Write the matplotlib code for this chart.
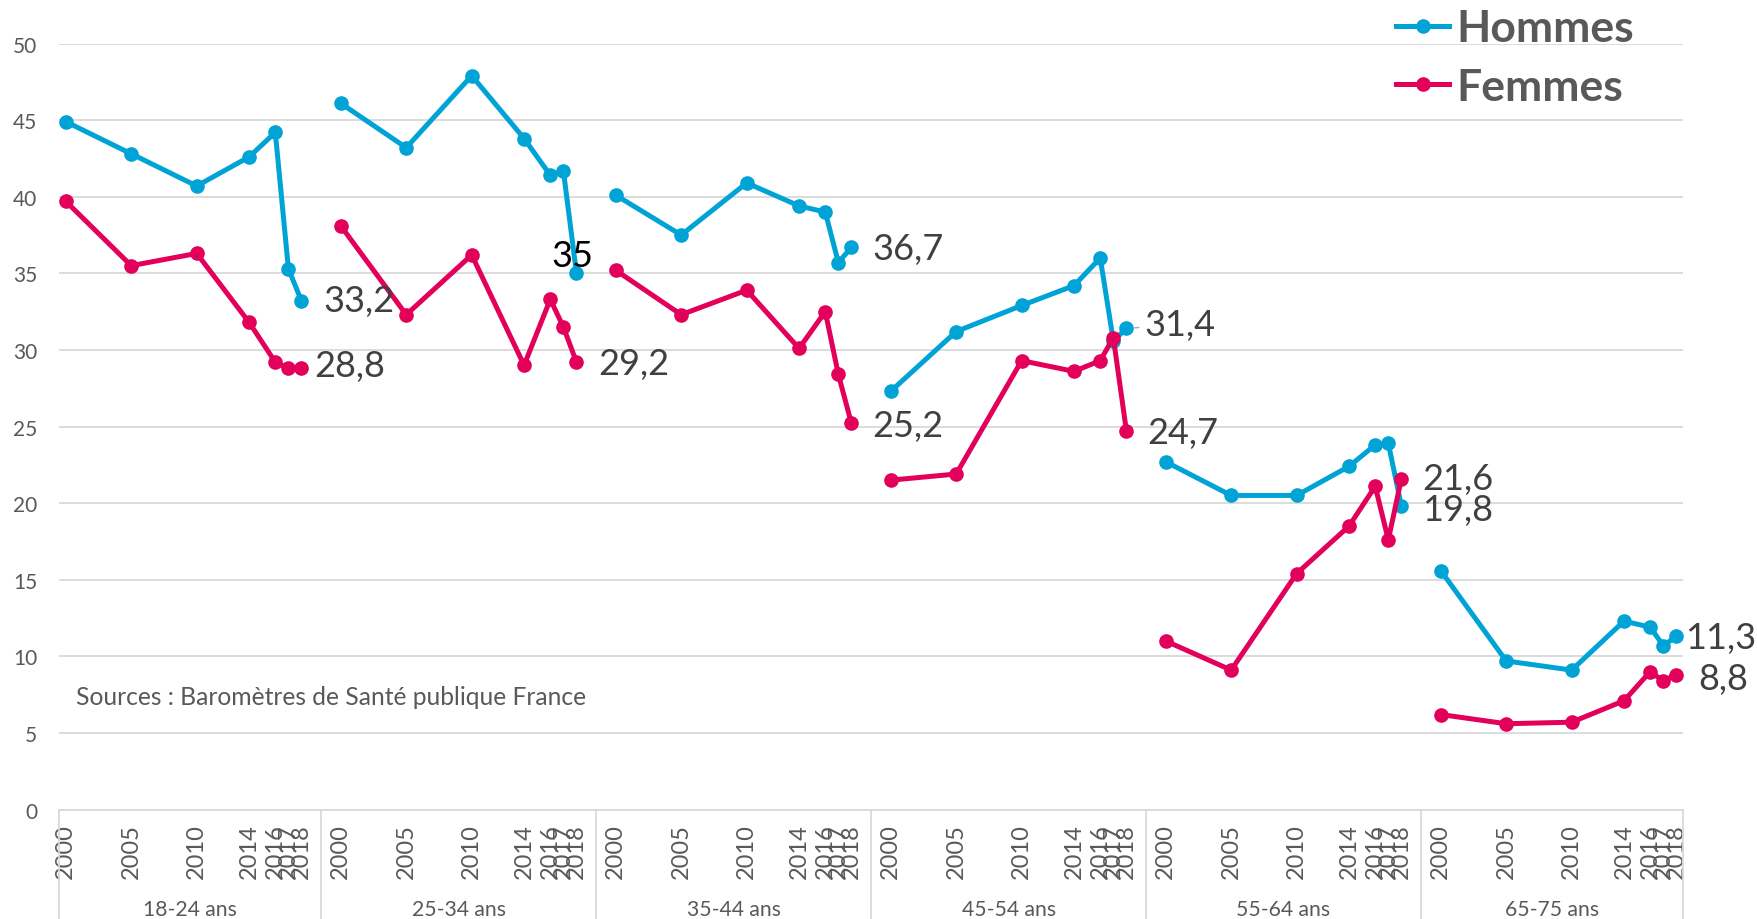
import matplotlib.pyplot as plt
from matplotlib.transforms import blended_transform_factory

plt.rcParams['font.family'] = ['Lato', 'DejaVu Sans']

# Data
age_groups = ['18-24 ans', '25-34 ans', '35-44 ans', '45-54 ans', '55-64 ans', '65-75 ans']
years = [2000, 2005, 2010, 2014, 2016, 2017, 2018]

hommes = [
    [44.9, 42.8, 40.7, 42.6, 44.2, 35.3, 33.2],
    [46.1, 43.2, 47.9, 43.8, 41.4, 41.7, 35.0],
    [40.1, 37.5, 40.9, 39.4, 39.0, 35.7, 36.7],
    [27.3, 31.2, 32.9, 34.2, 36.0, 30.6, 31.4],
    [22.7, 20.5, 20.5, 22.4, 23.8, 23.9, 19.8],
    [15.6, 9.7, 9.1, 12.3, 11.9, 10.7, 11.3],
]
femmes = [
    [39.7, 35.5, 36.3, 31.8, 29.2, 28.8, 28.8],
    [38.1, 32.3, 36.2, 29.0, 33.3, 31.5, 29.2],
    [35.2, 32.3, 33.9, 30.1, 32.5, 28.4, 25.2],
    [21.5, 21.9, 29.3, 28.6, 29.3, 30.8, 24.7],
    [11.0, 9.1, 15.4, 18.5, 21.1, 17.6, 21.6],
    [6.2, 5.6, 5.7, 7.1, 9.0, 8.4, 8.8],
]
source_text = 'Sources : Baromètres de Santé publique France'

# Style
BLUE = '#00a3d5'
PINK = '#e3005a'
GRID = '#d9d9d9'
TXT = '#595959'
LBL = '#404040'
STRIDE = 21  # one slot per year 2000-2018 + blank slots between groups

# label offsets (points) for the last value of each group
h_offsets = [(16, 0), (-3, 13), (15, -1), (13, 3), (15, -2.5), (6, -1)]
f_offsets = [(9, 2), (16, -1), (15, -1.5), (15, -1), (15, 0), (16, -2.5)]


def fmt(v):
    s = f'{v:.1f}'.replace('.', ',')
    return s[:-2] if s.endswith(',0') else s


fig = plt.figure(figsize=(17.58, 9.2), dpi=100)
ax = fig.add_axes([0.0337, 0.119, 0.9236, 0.8326])

tick_pos = []
tick_lab = []
for g in range(len(age_groups)):
    xs = [g * STRIDE + (y - years[0]) for y in years]
    tick_pos += xs
    tick_lab += [str(y) for y in years]
    ax.plot(xs, hommes[g], color=BLUE, lw=3.6, marker='o', ms=9.5,
            solid_joinstyle='round', label='Hommes' if g == 0 else None, zorder=3)
    ax.plot(xs, femmes[g], color=PINK, lw=3.6, marker='o', ms=9.5,
            solid_joinstyle='round', label='Femmes' if g == 0 else None, zorder=4)

    # data labels on last point
    hx, hy = xs[-1], hommes[g][-1]
    dx, dy = h_offsets[g]
    if g == 1:
        ax.annotate(fmt(hy), (hx, hy), xytext=(dx, dy), textcoords='offset points',
                    ha='center', va='center', fontsize=26, color='black', zorder=5)
    elif g == 3:
        ax.annotate(fmt(hy), (hx, hy), xytext=(dx, dy), textcoords='offset points',
                    ha='left', va='center', fontsize=26, color=LBL, zorder=5,
                    arrowprops=dict(arrowstyle='-', color='#a6a6a6', lw=1,
                                    shrinkA=2, shrinkB=6))
    else:
        ax.annotate(fmt(hy), (hx, hy), xytext=(dx, dy), textcoords='offset points',
                    ha='left', va='center', fontsize=26, color=LBL, zorder=5)
    fx, fy = xs[-1], femmes[g][-1]
    dx, dy = f_offsets[g]
    ax.annotate(fmt(fy), (fx, fy), xytext=(dx, dy), textcoords='offset points',
                ha='left', va='center', fontsize=26, color=LBL, zorder=5)

ax.set_xlim(-0.5, len(age_groups) * STRIDE - 2.5)
ax.set_ylim(0, 50)
ax.set_yticks(range(0, 51, 5))
ax.tick_params(axis='y', length=0, pad=16, labelsize=15, labelcolor=TXT)
ax.set_xticks(tick_pos, tick_lab, rotation=90)
ax.tick_params(axis='x', length=0, pad=10, labelsize=17, labelcolor=TXT)

ax.grid(axis='y', color=GRID, lw=1.3)
ax.set_axisbelow(True)
for s in ['top', 'right', 'left']:
    ax.spines[s].set_visible(False)
ax.spines['bottom'].set_color(GRID)
ax.spines['bottom'].set_linewidth(1.3)

# group separators and labels below the axis
trans = blended_transform_factory(ax.transData, ax.transAxes)
bounds = [-0.5] + [g * STRIDE - 1.5 for g in range(1, len(age_groups))] + [len(age_groups) * STRIDE - 2.5]
for b in bounds:
    ax.plot([b, b], [0, -0.2], color=GRID, lw=1.3, transform=trans, clip_on=False)
for g, name in enumerate(age_groups):
    ax.text((bounds[g] + bounds[g + 1]) / 2, -0.13, name, transform=trans,
            ha='center', va='center', fontsize=15.2, color=TXT)

ax.text(0.0103, 0.148, source_text, transform=ax.transAxes, ha='left', va='center',
        fontsize=17.7, color=TXT)

fig.legend(loc='upper left', bbox_to_anchor=(0.794, 0.99), frameon=False,
           prop={'weight': 'bold', 'size': 32}, labelcolor=TXT, handlelength=1.2,
           handletextpad=0.16, labelspacing=0.42, borderpad=0, borderaxespad=0)

fig.savefig('out.png', dpi=100)
